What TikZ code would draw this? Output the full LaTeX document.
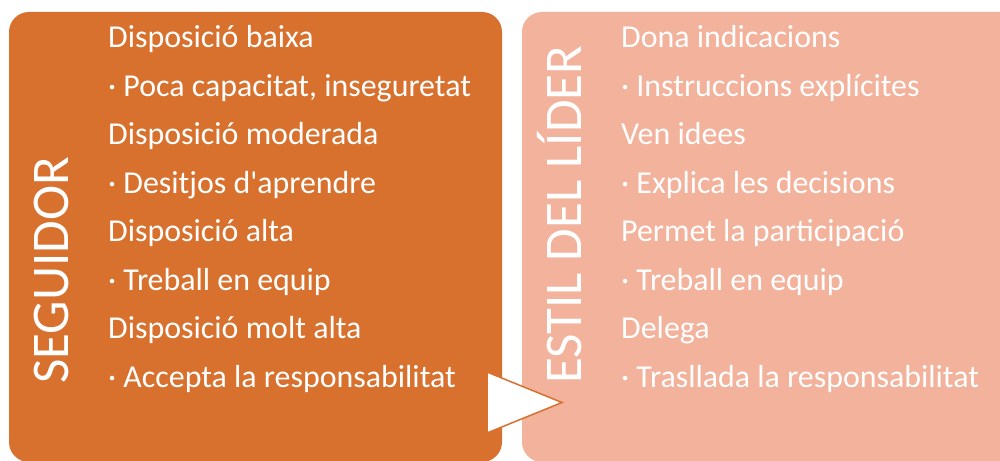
\documentclass[tikz,border=0pt]{standalone}
\usepackage{fontspec}
\setmainfont{Carlito}
\definecolor{leftorange}{RGB}{216,113,46}
\definecolor{rightsalmon}{RGB}{242,178,155}
\tikzset{
  item/.style={anchor=base west, inner sep=0pt, text=white, font=\fontsize{31.9}{31.9}\selectfont},
  vlabel/.style={anchor=base west, inner sep=0pt, text=white, rotate=90, font=\fontsize{53}{53}\selectfont},
}
\begin{document}
\begin{tikzpicture}[x=1pt,y=-1pt]
\useasboundingbox (0,0) rectangle (1000,460);
\fill[white] (0,0) rectangle (1000,460);
\fill[leftorange, rounded corners=20pt] (9,12) rectangle (502,462);
\fill[rightsalmon, rounded corners=20pt] (522,12) rectangle (1020,462);
\node[vlabel] (seg) at (68,384) {SEGUIDOR};
\node[vlabel] (est) at (581,384) {ESTIL DEL LÍDER};
\node[item] (l1) at (108,47.5) {Disposició baixa};
\node[item] (l2) at (108,96) {· Poca capacitat, inseguretat};
\node[item] (l3) at (108,144.5) {Disposició moderada};
\node[item] (l4) at (108,193) {· Desitjos d\textquotesingle aprendre};
\node[item] (l5) at (108,241.5) {Disposició alta};
\node[item] (l6) at (108,290) {· Treball en equip};
\node[item] (l7) at (108,338.5) {Disposició molt alta};
\node[item] (l8) at (108,387) {· Accepta la responsabilitat};
\node[item] (r1) at (621,47.5) {Dona indicacions};
\node[item] (r2) at (621,96) {· Instruccions explícites};
\node[item] (r3) at (621,144.5) {Ven idees};
\node[item] (r4) at (621,193) {· Explica les decisions};
\node[item] (r5) at (621,241.5) {Permet la participació};
\node[item] (r6) at (621,290) {· Treball en equip};
\node[item] (r7) at (621,338.5) {Delega};
\node[item] (r8) at (621,387) {· Trasllada la responsabilitat};
\filldraw[fill=white, draw=leftorange, line width=1.5pt, line join=miter] (487,372) -- (562,402.5) -- (487,433) -- cycle;
\end{tikzpicture}
\end{document}
